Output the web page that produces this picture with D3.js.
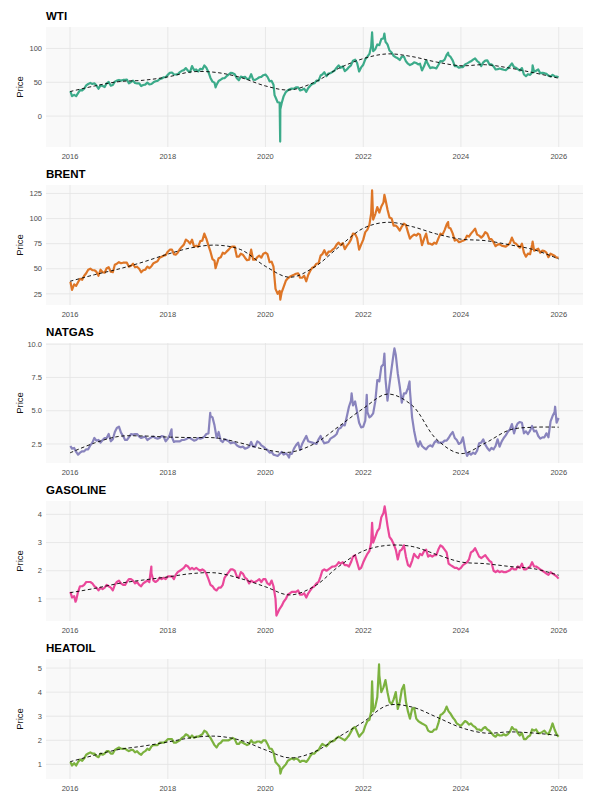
<!DOCTYPE html>
<html>
<head>
<meta charset="utf-8">
<script src="https://cdn.jsdelivr.net/npm/d3@7"></script>
<style>
  body { margin: 0; background: #fff; }
  svg { display: block; font-family: "Liberation Sans", Arial, sans-serif; }
</style>
</head>
<body>
<svg id="chart" width="603" height="805"></svg>
<script>
// semi-monthly prices (1st and 16th of each month, 2016-2025) + last close
var wtiPrice = [
  36.8,29.5,31.5,29.5,34,38.5, 38,40.5,45.5,47.5,49,47.5, 48.5,45.5,40.5,45.5,44.5,43, 48.5,50.5,45,46,51,52.5,
  53.5,52.5,53.5,53.5,54,48.5, 50.5,52.5,49,48.5,48.5,44.5, 46,46.5,49.5,47,47.5,50, 51.5,52,54.5,55.5,57.5,57.5,
  61,64,64.5,61.5,61.5,62, 65,67,68,71,67,65, 74,68,69,66,70,69, 75,71.5,65,56.5,51,49.5,
  46.5,52,54,56,56,59, 61.5,64,63.5,62,56,53, 58.5,57.5,58,55,55,62, 54,53.5,55.5,57.5,58,60.5,
  61.5,58,51.5,52,46.5,28, 20.5,19.9,19,29.5,35.5,38, 40,40.7,40.5,42.5,42.5,38, 39,40.5,36,41.5,45,47.6,
  48.5,52.5,52.5,60,61.5,64.8, 59,63,63.5,65.5,67.5,71.5, 75,71.5,73.5,66.5,69,72.5, 75,82,83.5,78.5,66,72,
  76,84,88,92,103,96, 99,106,105,114,115,110, 106,97,94,89,87,85.5, 83,88,88,81,77.5,75.5,
  77,79.5,78.5,76.5,77.5,67.5, 74,82.5,76.5,71,72,71.5, 70.5,75.5,81.5,81,83.5,90.5, 90,87.5,82,74,74,71.5,
  72.5,72.5,76.5,78,79.5,81, 83.5,85.5,81.5,79,74,79.5, 82,82.5,76.5,76.5,73.5,69, 69.5,70.5,69.5,68.5,68,70.5,
  74,78,72.5,71.5,69.5,67.5, 71,61.5,59,62,61,64.5, 65.5,67,69,63.5,64,63.5, 62.5,60,58.5,61,59,58.5,
  57.4
];
var wtiExtra = [["2018-12-24", 42.5], ["2020-03-09", 31.1], ["2020-04-20", -37.6], ["2020-04-21", 10],
  ["2022-03-08", 123.7], ["2022-06-08", 122.1], ["2023-09-27", 93.7], ["2025-06-20", 75]];
var wtiTrend = [36.3,44.5,51,53,58,65.5,64.5,57,44.6,38.7,50,70.5,85,92,88,80,74.5,76,71,64,56];
var wtiTicks = [0, 50, 100];

var brentPrice = [
  37,29,34.5,33,36.5,40, 39,43,45.5,49,50,48.5, 48.5,47,43,49,46.5,46, 50.5,51.5,47,46.5,54,55,
  56.5,55.5,56,56,56,52, 53,55,51.5,52,50,46.5, 48.5,49,52,50.5,52.5,55.5, 56.5,57.5,61,62,63,63.5,
  67,69,69,64.5,64,66, 69.5,72,74,79,77.5,75, 79,72,73,72,77.5,78, 85,80,73,67,59.5,58,
  54,60.5,61.5,66,65,67, 69,71.5,72,72,62,62, 65,64,61,58.5,59,69, 59,59,61.5,63,61,65,
  66,64.5,56.5,57,52,30, 25,28,26.5,32,38,40.5, 42,43,44,45,45.5,41, 41,43,37.5,44,48,51,
  52,55,55.5,63,64.5,68.5, 63.5,67,67,69,70.5,74, 76,73.5,75.5,69.5,73,75.5, 79,85,84.5,80.5,69,74,
  79,86.5,89,94,105,99, 104.5,111.5,106,112,116,119, 109,101,100,93,93,91, 88,92,95,93.5,86.5,80,
  82.5,84,83,85,84,73.5, 80,85,75,75,74,76, 75,80,85,84,88.5,94, 91,90,85,78,79,76.5,
  77,78,79,83,82,85, 87.5,90,84,83,81,83, 86.5,85,79.5,79.5,76.5,72.5, 74,74.5,73,72.5,72,73.5,
  75.5,81,76,75,73,71, 75,66,62,65,64.5,74, 68,69,70,66,68,67.5, 66,61.5,65,64,63,61,
  61.2
];
var brentExtra = [["2018-12-24", 50.5], ["2020-04-21", 19.3], ["2022-03-08", 128],
  ["2022-06-08", 123.6], ["2023-09-27", 96.5], ["2025-06-20", 77]];
var brentTrend = [37.5,44,49.8,56.7,64.6,71,73.5,69,52.4,41.5,51.7,71.5,90.3,96.3,92,84.7,79.5,78,73.8,68.9,59.7];
var brentTicks = [25, 50, 75, 100, 125];

var natgasPrice = [
  2.35,2.15,2.2,1.9,1.7,1.85, 1.95,1.95,2.1,2.1,2.4,2.6, 2.95,2.75,2.8,2.6,2.8,2.95, 2.95,3.25,2.7,2.85,3.4,3.7,
  3.8,3.35,3.1,2.8,2.8,3.0, 3.25,3.2,3.25,3.25,3.05,2.95, 3.0,3.05,2.8,2.9,3.0,3.05, 2.95,2.9,2.95,3.1,3.05,2.7,
  2.9,3.2,3.0,2.65,2.7,2.7, 2.7,2.8,2.8,2.85,2.95,2.95, 2.85,2.75,2.8,2.95,2.9,2.95, 3.05,3.25,3.3,4.6,4.5,3.9,
  2.95,3.4,2.75,2.65,2.85,2.8, 2.7,2.55,2.6,2.6,2.4,2.3, 2.25,2.3,2.15,2.2,2.3,2.65, 2.3,2.3,2.7,2.6,2.4,2.3,
  2.15,2.05,1.85,1.9,1.7,1.65, 1.6,1.75,1.9,1.7,1.8,1.65, 1.75,1.75,2.15,2.4,2.6,2.05, 2.5,2.8,3.1,2.7,2.65,2.6,
  2.55,2.5,2.85,3.1,2.8,2.55, 2.6,2.65,2.9,3.0,3.1,3.25, 3.65,3.7,3.95,3.9,4.6,5.3, 5.75,5.4,5.7,4.9,4.1,3.75,
  3.8,4.25,4.9,4.5,4.6,4.8, 5.7,7.3,7.2,8.3,8.5,7.4, 5.75,7.0,8.2,9.3,9.2,7.8, 6.8,5.6,6.3,6.3,6.7,6.5,
  4.5,3.5,2.7,2.3,2.7,2.35, 2.2,2.1,2.3,2.4,2.3,2.6, 2.75,2.6,2.6,2.6,2.75,2.75, 2.95,3.2,3.4,2.95,2.8,2.5,
  2.6,3.0,2.1,1.6,1.85,1.7, 1.85,1.75,2.0,2.55,2.6,2.85, 2.45,2.2,2.0,2.2,2.1,2.35, 2.85,2.3,2.7,2.95,3.15,3.4,
  3.6,4.0,3.3,3.8,4.05,4.15, 4.1,3.3,3.45,3.25,3.5,3.85, 3.45,3.5,3.1,2.9,3.0,3.0, 3.3,3.0,4.2,4.6,4.9,4.1,
  4.45
];
var natgasExtra = [["2018-01-29", 3.6], ["2018-11-14", 4.84], ["2020-06-25", 1.48], ["2021-10-06", 6.3],
  ["2022-01-27", 6.2], ["2022-06-08", 9.3], ["2022-08-22", 9.68], ["2022-12-13", 7.2], ["2025-12-05", 5.3]];
var natgasTrend = [1.83,2.57,3.07,3.1,3.02,2.98,2.95,2.57,2.08,1.88,2.52,3.81,5.17,6.25,5.4,2.87,1.78,2.57,3.56,3.76,3.76];
var natgasTicks = [2.5, 5, 7.5, 10];

var gasolinePrice = [
  1.25,1.05,1.1,0.95,1.25,1.45, 1.45,1.5,1.6,1.6,1.6,1.55, 1.45,1.4,1.3,1.4,1.35,1.4, 1.5,1.45,1.4,1.3,1.5,1.6,
  1.65,1.55,1.5,1.5,1.6,1.7, 1.7,1.65,1.55,1.6,1.5,1.45, 1.55,1.6,1.65,1.6,1.9,1.65, 1.6,1.65,1.75,1.7,1.75,1.7,
  1.8,1.8,1.8,1.7,1.85,1.95, 2.0,2.05,2.1,2.2,2.15,2.05, 2.1,2.05,2.1,2.05,2.0,2.05, 2.0,1.9,1.7,1.5,1.45,1.35,
  1.3,1.4,1.4,1.5,1.75,1.85, 1.95,2.05,2.05,2.0,1.8,1.75, 1.95,1.9,1.75,1.7,1.55,1.65, 1.6,1.6,1.65,1.7,1.6,1.7,
  1.7,1.55,1.5,1.65,1.45,1.0, 0.5,0.65,0.75,0.9,1.0,1.15, 1.2,1.25,1.25,1.25,1.3,1.15, 1.15,1.2,1.05,1.2,1.3,1.4,
  1.45,1.55,1.6,1.8,2.0,2.05, 2.0,2.05,2.1,2.15,2.15,2.2, 2.3,2.25,2.3,2.2,2.2,2.15, 2.3,2.5,2.55,2.3,2.05,2.1,
  2.3,2.45,2.6,2.7,3.0,3.0, 3.2,3.4,3.5,3.9,4.05,4.1, 3.6,3.2,3.1,2.95,2.75,2.4, 2.7,2.75,2.9,2.5,2.2,2.15,
  2.35,2.6,2.5,2.45,2.6,2.55, 2.7,2.75,2.5,2.55,2.5,2.55, 2.55,2.75,2.9,2.85,2.75,2.65, 2.25,2.2,2.15,2.1,2.1,2.05,
  2.1,2.2,2.25,2.3,2.4,2.65, 2.7,2.8,2.65,2.5,2.45,2.5, 2.55,2.45,2.35,2.3,2.0,1.95, 2.0,1.95,1.98,1.95,1.95,1.98,
  2.02,2.1,2.05,2.05,2.15,2.1, 2.25,2.05,2.05,2.1,2.15,2.3, 2.15,2.15,2.1,2.05,2.0,1.95, 1.9,1.85,1.95,1.9,1.85,1.8,
  1.72
];
var gasolineExtra = [["2016-02-11", 0.9], ["2017-08-31", 2.15], ["2020-03-23", 0.41],
  ["2022-03-08", 3.7], ["2022-06-10", 4.28]];
var gasolineTrend = [1.22,1.37,1.55,1.67,1.78,1.9,1.92,1.72,1.43,1.14,1.45,2.15,2.7,2.9,2.86,2.58,2.31,2.25,2.15,2.07,1.84];
var gasolineTicks = [1, 2, 3, 4];

var heatoilPrice = [
  1.1,0.95,1.05,0.95,1.1,1.2, 1.15,1.25,1.4,1.45,1.5,1.45, 1.45,1.35,1.3,1.45,1.4,1.45, 1.55,1.55,1.45,1.45,1.6,1.65,
  1.7,1.65,1.65,1.65,1.6,1.55, 1.6,1.6,1.5,1.55,1.45,1.4, 1.5,1.55,1.65,1.6,1.75,1.8, 1.8,1.8,1.9,1.9,1.9,1.95,
  2.05,2.05,2.05,1.9,1.9,1.95, 2.0,2.1,2.15,2.25,2.2,2.1, 2.2,2.1,2.15,2.15,2.2,2.25, 2.4,2.35,2.2,2.1,1.95,1.8,
  1.7,1.85,1.9,2.0,2.0,2.0, 2.0,2.05,2.1,2.05,1.85,1.85, 1.95,1.9,1.85,1.8,1.85,2.0, 1.9,1.9,1.95,1.95,1.9,2.0,
  2.0,1.85,1.65,1.65,1.5,1.1, 1.0,0.9,0.8,0.9,1.0,1.15, 1.2,1.25,1.2,1.25,1.2,1.1, 1.15,1.15,1.1,1.2,1.35,1.45,
  1.45,1.55,1.6,1.75,1.85,1.8, 1.75,1.85,1.95,1.95,2.0,2.1, 2.15,2.1,2.05,2.0,2.1,2.2, 2.35,2.5,2.55,2.35,2.15,2.25,
  2.35,2.6,2.8,2.85,3.2,3.2, 3.4,3.8,4.7,4.0,4.2,4.5, 4.0,3.6,3.5,3.7,4.0,3.3, 3.6,4.1,4.3,3.6,3.2,2.9,
  3.3,3.35,2.9,2.8,2.75,2.7, 2.65,2.6,2.4,2.35,2.35,2.45, 2.45,2.7,3.05,3.1,3.2,3.4, 3.2,3.1,2.95,2.85,2.7,2.65,
  2.6,2.7,2.8,2.75,2.65,2.7, 2.6,2.55,2.45,2.45,2.4,2.5, 2.55,2.45,2.4,2.3,2.2,2.15, 2.25,2.2,2.2,2.25,2.2,2.25,
  2.35,2.55,2.45,2.45,2.3,2.2, 2.3,2.05,2.05,2.15,2.2,2.45, 2.4,2.45,2.3,2.3,2.35,2.4, 2.3,2.25,2.45,2.7,2.45,2.25,
  2.15
];
var heatoilExtra = [["2020-04-22", 0.62], ["2022-03-08", 4.45], ["2022-04-29", 5.15]];
var heatoilTrend = [1.11,1.38,1.62,1.76,1.93,2.11,2.17,2.0,1.6,1.27,1.52,2.14,2.76,3.45,3.38,2.97,2.53,2.3,2.35,2.3,2.2];
var heatoilTicks = [1, 2, 3, 4, 5];

var names = ["WTI", "BRENT", "NATGAS", "GASOLINE", "HEATOIL"];
var colors = ["#1b9e77", "#d95f02", "#7570b3", "#e7298a", "#66a61e"];
var yearTicks = [2016, 2018, 2020, 2022, 2024, 2026];

var panels = [
  {price: wtiPrice, extra: wtiExtra, trend: wtiTrend, ticks: wtiTicks, fmt: d3.format("d")},
  {price: brentPrice, extra: brentExtra, trend: brentTrend, ticks: brentTicks, fmt: d3.format("d")},
  {price: natgasPrice, extra: natgasExtra, trend: natgasTrend, ticks: natgasTicks, fmt: d3.format(".1f")},
  {price: gasolinePrice, extra: gasolineExtra, trend: gasolineTrend, ticks: gasolineTicks, fmt: d3.format("d")},
  {price: heatoilPrice, extra: heatoilExtra, trend: heatoilTrend, ticks: heatoilTicks, fmt: d3.format("d")}
];

// date of each grid slot
function gridDate(i) {
  if (i === 240) return new Date(2025, 11, 31);
  var y = 2016 + Math.floor(i / 24), m = Math.floor((i % 24) / 2);
  return new Date(y, m, i % 2 ? 16 : (i === 0 ? 4 : 1));
}
function trendDate(i) {
  return new Date(2016 + Math.floor(i / 2), i % 2 ? 6 : 0, 1);
}
var parse = d3.timeParse("%Y-%m-%d");

var svg = d3.select("#chart");
var panelH = 158, plotTop = 27, plotH = 120;
var left = 46, right = 583;

var t0 = gridDate(0), t1 = gridDate(240);
var pad = (t1 - t0) * 0.05;
var x = d3.scaleTime()
    .domain([new Date(+t0 - pad), new Date(+t1 + pad)])
    .range([left, right]);

panels.forEach(function (p, k) {
  var off = k * panelH;
  var pts = p.price.map(function (v, i) { return {date: gridDate(i), value: v}; })
      .concat(p.extra.map(function (e) { return {date: parse(e[0]), value: e[1]}; }));
  pts.sort(function (a, b) { return a.date - b.date; });

  var ext = d3.extent(pts, function (d) { return d.value; });
  var span = ext[1] - ext[0];
  var y = d3.scaleLinear()
      .domain([ext[0] - span * 0.05, ext[1] + span * 0.05])
      .range([off + plotTop + plotH, off + plotTop]);

  var g = svg.append("g");

  g.append("rect")
      .attr("x", left).attr("y", off + plotTop)
      .attr("width", right - left).attr("height", plotH)
      .attr("fill", "#f9f9f9");

  // grid
  g.selectAll(".hg").data(p.ticks).enter().append("line")
      .attr("x1", left).attr("x2", right)
      .attr("y1", function (d) { return y(d); }).attr("y2", function (d) { return y(d); })
      .attr("stroke", "#e3e3e3").attr("stroke-width", 0.8);
  g.selectAll(".vg").data(yearTicks).enter().append("line")
      .attr("x1", function (d) { return x(new Date(d, 0, 1)); })
      .attr("x2", function (d) { return x(new Date(d, 0, 1)); })
      .attr("y1", off + plotTop).attr("y2", off + plotTop + plotH)
      .attr("stroke", "#e3e3e3").attr("stroke-width", 0.8);

  // axes labels
  g.selectAll(".yl").data(p.ticks).enter().append("text")
      .attr("x", 42).attr("y", function (d) { return y(d) + 2.7; })
      .attr("text-anchor", "end")
      .attr("font-size", 7.5).attr("fill", "#4d4d4d")
      .text(p.fmt);
  g.selectAll(".xl").data(yearTicks).enter().append("text")
      .attr("x", function (d) { return x(new Date(d, 0, 1)); })
      .attr("y", off + 158.5)
      .attr("text-anchor", "middle")
      .attr("font-size", 7.5).attr("fill", "#4d4d4d")
      .text(function (d) { return d; });

  g.append("text")
      .attr("transform", "translate(23," + (off + plotTop + plotH / 2) + ") rotate(-90)")
      .attr("text-anchor", "middle")
      .attr("font-size", 9.5).attr("fill", "#111")
      .text("Price");

  g.append("text")
      .attr("x", left).attr("y", off + 19.5)
      .attr("font-size", 11.5).attr("font-weight", "bold").attr("fill", "#000")
      .text(names[k]);

  // price line
  var line = d3.line()
      .x(function (d) { return x(d.date); })
      .y(function (d) { return y(d.value); });
  g.append("path")
      .datum(pts)
      .attr("d", line)
      .attr("fill", "none")
      .attr("stroke", colors[k])
      .attr("stroke-opacity", 0.85)
      .attr("stroke-width", 2.2)
      .attr("stroke-linejoin", "round");

  // smoothed trend
  var trendLine = d3.line()
      .x(function (d, i) { return x(trendDate(i)); })
      .y(function (d) { return y(d); })
      .curve(d3.curveCatmullRom.alpha(0.5));
  g.append("path")
      .datum(p.trend)
      .attr("d", trendLine)
      .attr("fill", "none")
      .attr("stroke", "#000")
      .attr("stroke-width", 0.9)
      .attr("stroke-dasharray", "3.5,2.5");
});
</script>
</body>
</html>
